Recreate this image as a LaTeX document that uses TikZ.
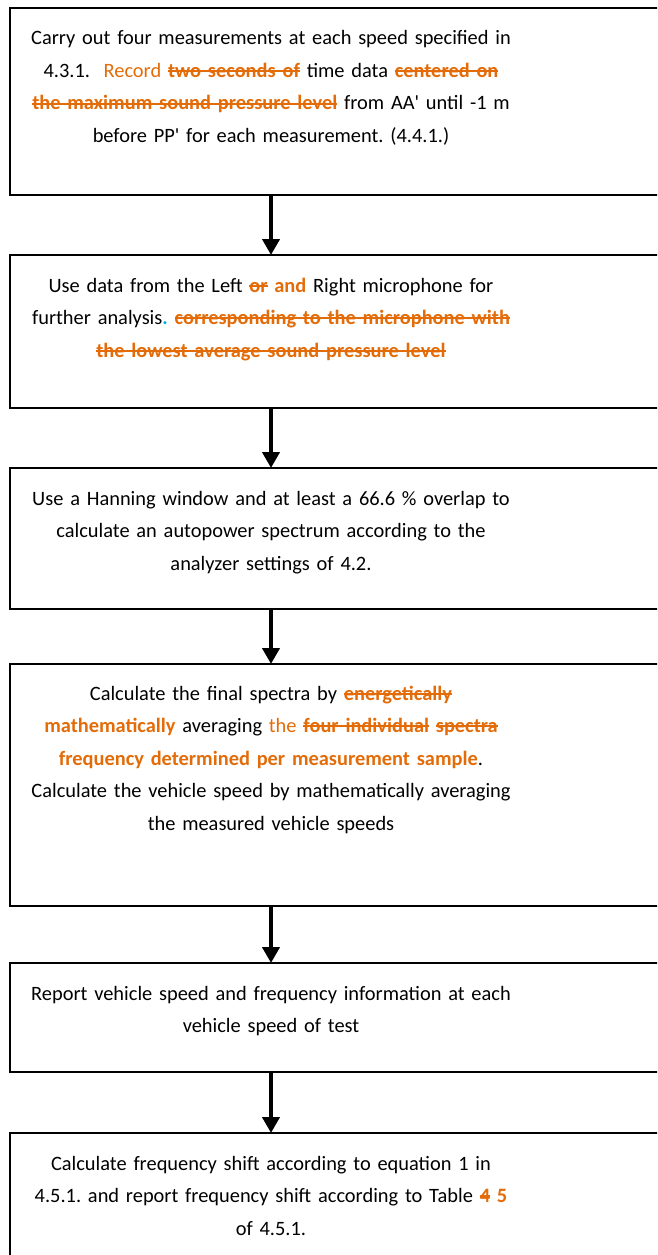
\documentclass[tikz,border=0pt]{standalone}
\usepackage{fontspec}
\setmainfont{Carlito}
\usetikzlibrary{arrows.meta}
\definecolor{chg}{HTML}{E36C09}
\definecolor{dotblue}{HTML}{00B0F0}
\frenchspacing
\newcommand\del[1]{\leavevmode{\color{chg}\bfseries\setbox0\hbox{#1}%
  \rlap{\rule[0.26em]{\wd0}{1.8pt}}\box0}}
\newcommand\ins[1]{{\color{chg}\bfseries #1}}
\newcommand\insr[1]{{\color{chg}#1}}
\newcommand\qs{\textquotesingle}
\tikzset{
  stepbox/.style={draw,line width=2.2pt,minimum width=660pt,anchor=north west,
    inner sep=0pt,outer sep=0pt},
  steptext/.style={text width=580pt,align=center,anchor=base,inner sep=0pt,
    font=\fontsize{20.4}{32.5}\selectfont},
  flow/.style={line width=4pt,-{Triangle[width=17pt,length=16pt]}}
}

\begin{document}
\begin{tikzpicture}[x=1pt,y=-1pt]
  \useasboundingbox (0,0) rectangle (657,1255);
  \clip (0,0) rectangle (657,1255);
  % boxes
  \node[stepbox,minimum height=187pt] (b1) at (10,8) {};
  \node[stepbox,minimum height=153pt] (b2) at (10,255) {};
  \node[stepbox,minimum height=141pt] (b3) at (10,468) {};
  \node[stepbox,minimum height=242pt] (b4) at (10,664) {};
  \node[stepbox,minimum height=109pt] (b5) at (10,963) {};
  \node[stepbox,minimum height=170pt] (b6) at (10,1133) {};
  % texts
  \node[steptext] (t1) at (271,45) {Carry out four measurements at each speed specified in\\
    4.3.1.\ \ \insr{Record} \del{two seconds of} time data \del{centered on}\\
    \del{the maximum sound pressure level} from AA\qs{} until -1 m\\
    before PP\qs{} for each measurement. (4.4.1.)};
  \node[steptext] (t2) at (271,292) {Use data from the Left \del{or} \ins{and} Right microphone for\\
    further analysis{\color{dotblue}\bfseries .} \del{corresponding to the microphone with}\\
    \del{the lowest average sound pressure level}};
  \node[steptext] (t3) at (271,505) {Use a Hanning window and at least a 66.6 \% overlap to\\
    calculate an autopower spectrum according to the\\
    analyzer settings of 4.2.};
  \node[steptext] (t4) at (271,700) {Calculate the final spectra by \del{energetically}\\
    \ins{mathematically} averaging \insr{the} \del{four individual} \del{spectra}\\
    \ins{frequency determined per measurement sample}.\\
    Calculate the vehicle speed by mathematically averaging\\
    the measured vehicle speeds};
  \node[steptext] (t5) at (271,1000) {Report vehicle speed and frequency information at each\\
    vehicle speed of test};
  \node[steptext] (t6) at (271,1170) {Calculate frequency shift according to equation 1 in\\
    4.5.1. and report frequency shift according to Table \del{4} \ins{5}\\
    of 4.5.1.};
  % arrows
  \draw[flow] (t1 |- b1.south) -- (t1 |- b2.north);
  \draw[flow] (t2 |- b2.south) -- (t2 |- b3.north);
  \draw[flow] (t3 |- b3.south) -- (t3 |- b4.north);
  \draw[flow] (t4 |- b4.south) -- (t4 |- b5.north);
  \draw[flow] (t5 |- b5.south) -- (t5 |- b6.north);
\end{tikzpicture}
\end{document}
